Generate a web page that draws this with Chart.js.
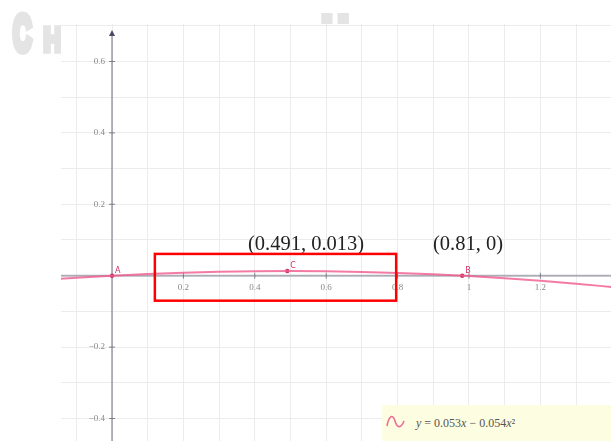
<!DOCTYPE html>
<html>
<head>
<meta charset="utf-8">
<title>y = 0.053x - 0.054x²</title>
<script src="https://cdn.jsdelivr.net/npm/chart.js@4.4.1/dist/chart.umd.min.js"></script>
<style>
    html, body { margin: 0; padding: 0; width: 611px; height: 441px; overflow: hidden; background: #fff; }
    #watermark { position: absolute; left: 0; top: 0; }
    #plot { position: absolute; left: 61px; top: 24px; width: 550px; height: 417px; background: #fff; }
    #legendBox {
        position: absolute; left: 382px; top: 405px; width: 229px; height: 36px;
        background: #fdfde1;
        font-family: 'Liberation Serif', serif; font-size: 12px; color: #555;
    }
    #legendBox svg { position: absolute; left: 0; top: 0; }
    #legendBox span { position: absolute; left: 34px; top: 11px; white-space: nowrap; }
</style>
</head>
<body>
<canvas id="watermark" width="611" height="441"></canvas>
<div id="plot"><canvas id="graph" width="550" height="417"></canvas></div>
<div id="legendBox">
    <svg width="40" height="36"><path d="M5,21 C7,10 11,9 13,16 S19,24 22,16" fill="none" stroke="#ef6f96" stroke-width="1.6"/></svg>
    <span><i>y</i> = 0.053<i>x</i> − 0.054<i>x</i>²</span>
</div>
<script>
// Visible window of the graph (axis units)
const X_MIN = -0.1429;
const X_MAX = 1.3978;
const Y_MIN = -0.463;
const Y_MAX = 0.705;

// Curve samples
const curveX = [-0.15, -0.1, 0, 0.1, 0.2, 0.3, 0.4, 0.5, 0.6, 0.7, 0.8, 0.9, 1.0, 1.1, 1.2, 1.3, 1.4];
const curveY = [-0.0092, -0.0058, 0, 0.0048, 0.0084, 0.0110, 0.0126, 0.0130, 0.0124, 0.0106, 0.0078, 0.0040, -0.0010, -0.0070, -0.0142, -0.0224, -0.0316];

// Named points
const pointNames = ['A', 'C', 'B'];
const pointX = [0, 0.491, 0.981];
const pointY = [0, 0.013, 0];

// Axis tick labels
const xTickValues = [0.2, 0.4, 0.6, 0.8, 1, 1.2];
const xTickLabels = ['0.2', '0.4', '0.6', '0.8', '1', '1.2'];
const yTickValues = [0.6, 0.4, 0.2, -0.2, -0.4];
const yTickLabels = ['0.6', '0.4', '0.2', '−0.2', '−0.4'];

// Text annotations and the highlight box
const noteTexts = ['(0.491, 0.013)', '(0.81, 0)'];
const noteX = [0.381, 0.899];
const noteY = [0.072, 0.072];
const boxX = [0.120, 0.796];
const boxY = [0.061, -0.070];

const AXIS_COLOR = 'rgba(120, 120, 140, 0.55)';
const CURVE_COLOR = 'rgba(240, 90, 140, 0.8)';
const POINT_COLOR = '#d23264';

// Faint watermark letters behind the graph
function drawWatermark() {
    const ctx = document.getElementById('watermark').getContext('2d');
    ctx.fillStyle = '#e4e4e4';
    ctx.strokeStyle = '#e4e4e4';
    drawFitted(ctx, 'C', 12, 12, 21, 43);
    drawFitted(ctx, 'H', 43, 25, 19, 29);
    drawFitted(ctx, 'H', 321, 13, 28, 43);
}

function drawFitted(ctx, text, x, y, w, h) {
    const pad = 8; // thickens the strokes
    ctx.font = 'bold 100px "Liberation Sans", sans-serif';
    ctx.lineWidth = pad * 2;
    ctx.lineJoin = 'miter';
    const m = ctx.measureText(text);
    const tw = m.actualBoundingBoxLeft + m.actualBoundingBoxRight + pad * 2;
    const th = m.actualBoundingBoxAscent + m.actualBoundingBoxDescent + pad * 2;
    ctx.save();
    ctx.translate(x, y);
    ctx.scale(w / tw, h / th);
    ctx.fillText(text, m.actualBoundingBoxLeft + pad, m.actualBoundingBoxAscent + pad);
    ctx.strokeText(text, m.actualBoundingBoxLeft + pad, m.actualBoundingBoxAscent + pad);
    ctx.restore();
}

// Axes, arrow, tick marks and tick labels
const axesPlugin = {
    id: 'axes',
    beforeDatasetsDraw(chart) {
        const { ctx, scales: { x, y }, chartArea } = chart;
        const x0 = x.getPixelForValue(0);
        const y0 = y.getPixelForValue(0);
        ctx.save();
        ctx.strokeStyle = AXIS_COLOR;
        ctx.lineWidth = 2;
        ctx.beginPath();
        ctx.moveTo(chartArea.left, y0);
        ctx.lineTo(chartArea.right, y0);
        ctx.moveTo(x0, chartArea.bottom);
        ctx.lineTo(x0, y.getPixelForValue(0.68));
        ctx.stroke();

        // arrow head on the y axis
        const tip = y.getPixelForValue(0.688);
        ctx.fillStyle = '#4a4a66';
        ctx.beginPath();
        ctx.moveTo(x0, tip);
        ctx.lineTo(x0 - 3, tip + 6);
        ctx.lineTo(x0 + 3, tip + 6);
        ctx.closePath();
        ctx.fill();

        ctx.lineWidth = 1;
        ctx.strokeStyle = 'rgba(90, 90, 110, 0.7)';
        ctx.fillStyle = '#888';
        ctx.font = '9px "Liberation Serif", serif';
        ctx.textAlign = 'center';
        ctx.textBaseline = 'middle';
        xTickValues.forEach((v, i) => {
            const px = x.getPixelForValue(v);
            ctx.beginPath();
            ctx.moveTo(px, y0 - 3);
            ctx.lineTo(px, y0 + 3);
            ctx.stroke();
            ctx.fillText(xTickLabels[i], px, y0 + 12);
        });
        ctx.textAlign = 'right';
        yTickValues.forEach((v, i) => {
            const py = y.getPixelForValue(v);
            ctx.beginPath();
            ctx.moveTo(x0 - 3, py);
            ctx.lineTo(x0 + 3, py);
            ctx.stroke();
            ctx.fillText(yTickLabels[i], x0 - 7, py);
        });
        ctx.restore();
    },
    afterDatasetsDraw(chart) {
        const { ctx, scales: { x, y } } = chart;
        ctx.save();

        // point names
        const meta = chart.getDatasetMeta(1);
        ctx.fillStyle = POINT_COLOR;
        ctx.font = '8px "DejaVu Sans", sans-serif';
        ctx.textAlign = 'left';
        ctx.textBaseline = 'alphabetic';
        meta.data.forEach((el, i) => {
            ctx.fillText(pointNames[i], el.x + 3, el.y - 3);
        });

        // coordinate notes
        ctx.fillStyle = '#222';
        ctx.font = '20.5px "Liberation Serif", serif';
        noteTexts.forEach((t, i) => {
            ctx.fillText(t, x.getPixelForValue(noteX[i]), y.getPixelForValue(noteY[i]));
        });

        // highlight box
        ctx.strokeStyle = '#ff0000';
        ctx.lineWidth = 2.5;
        const left = x.getPixelForValue(boxX[0]);
        const right = x.getPixelForValue(boxX[1]);
        const top = y.getPixelForValue(boxY[0]);
        const bottom = y.getPixelForValue(boxY[1]);
        ctx.strokeRect(left, top, right - left, bottom - top);
        ctx.restore();
    }
};

function createGraph() {
    const ctx = document.getElementById('graph').getContext('2d');
    new Chart(ctx, {
        type: 'scatter',
        data: {
            datasets: [{
                data: curveX.map((v, i) => ({ x: v, y: curveY[i] })),
                showLine: true,
                borderColor: CURVE_COLOR,
                borderWidth: 2,
                pointRadius: 0,
                cubicInterpolationMode: 'monotone'
            }, {
                data: pointX.map((v, i) => ({ x: v, y: pointY[i] })),
                pointRadius: 2.2,
                pointBackgroundColor: POINT_COLOR,
                pointBorderWidth: 0
            }]
        },
        options: {
            responsive: false,
            animation: false,
            devicePixelRatio: 1,
            layout: { padding: 0, autoPadding: false },
            plugins: { legend: { display: false }, tooltip: { enabled: false } },
            scales: {
                x: {
                    type: 'linear', min: X_MIN, max: X_MAX,
                    ticks: { display: false, stepSize: 0.1, includeBounds: false },
                    grid: { color: '#ececec', drawTicks: false },
                    border: { display: false }
                },
                y: {
                    type: 'linear', min: Y_MIN, max: Y_MAX,
                    ticks: { display: false, stepSize: 0.1, includeBounds: false },
                    grid: { color: '#ececec', drawTicks: false },
                    border: { display: false }
                }
            }
        },
        plugins: [axesPlugin]
    });
}

drawWatermark();
createGraph();
</script>
</body>
</html>
